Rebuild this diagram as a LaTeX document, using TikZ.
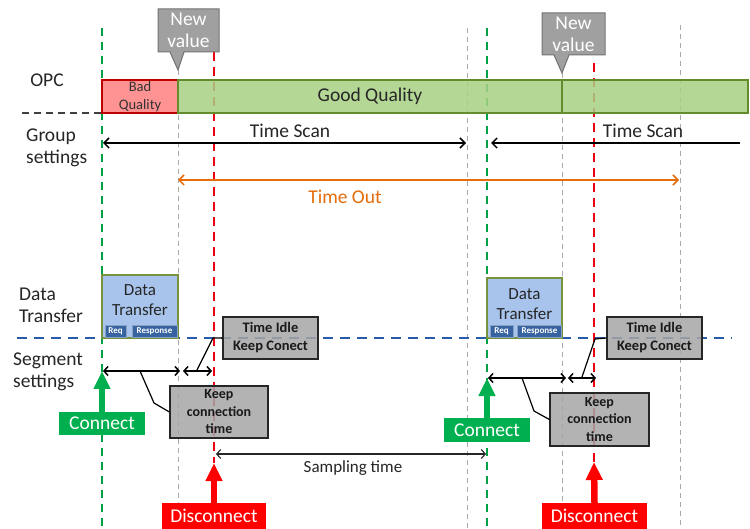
\documentclass[tikz,border=0pt]{standalone}
\usepackage{fontspec}
\setmainfont{Carlito}
\usetikzlibrary{arrows.meta}
\definecolor{cgreen}{RGB}{0,160,70}
\definecolor{cred}{RGB}{235,0,20}
\definecolor{cgray}{RGB}{170,170,170}
\definecolor{cblue}{RGB}{40,90,170}
\definecolor{badfill}{RGB}{255,128,128}
\definecolor{baddraw}{RGB}{190,0,0}
\definecolor{goodfill}{RGB}{169,209,132}
\definecolor{gooddraw}{RGB}{100,140,45}
\definecolor{corange}{RGB}{228,108,10}
\definecolor{dtfill}{RGB}{168,196,236}
\definecolor{dtdraw}{RGB}{118,146,60}
\definecolor{reqfill}{RGB}{55,100,160}
\definecolor{boxgray}{RGB}{166,166,166}
\definecolor{nvgray}{RGB}{160,160,160}
\definecolor{conngreen}{RGB}{0,176,80}
\definecolor{discred}{RGB}{255,0,0}
\tikzset{
  fs/.style 2 args={font=\fontsize{#1}{#2}\selectfont},
  fsb/.style 2 args={font=\fontsize{#1}{#2}\selectfont\bfseries},
  lab/.style={fs={19.5}{22}, text=black!85, align=left, inner sep=0pt},
  vgreen/.style={draw=cgreen, line width=2.2pt, dash pattern=on 8pt off 6pt},
  vred/.style={draw=cred, line width=2.4pt, dash pattern=on 9pt off 6pt},
  vgray/.style={draw=cgray, line width=1pt, dash pattern=on 5pt off 4pt},
  boxnode/.style={rectangle, inner sep=0pt, line width=1.2pt},
  badbox/.style={boxnode, fill=badfill, draw=baddraw, fill opacity=0.85, text opacity=1},
  goodbox/.style={boxnode, fill=goodfill, draw=gooddraw, fill opacity=0.85, text opacity=1},
  dtbox/.style={boxnode, fill=dtfill, draw=dtdraw},
  reqbox/.style={boxnode, fill=reqfill, draw=reqfill!60, line width=0.6pt, text=white, fsb={9}{10}},
  graybox/.style={boxnode, fill=boxgray, draw=black!85, fill opacity=0.85, text opacity=1, align=center, text=black!90},
  scanarrow/.style={draw=black, line width=1.5pt, {Straight Barb[length=5pt,width=10pt]}-{Straight Barb[length=5pt,width=10pt]}},
  onearrow/.style={draw=black, line width=1.5pt, -{Straight Barb[length=5pt,width=10pt]}},
  segarrow/.style={draw=black, line width=1.5pt, {Straight Barb[length=4pt,width=9pt]}-{Straight Barb[length=4pt,width=9pt]}},
  thinarrow/.style={draw=black!85, line width=1.1pt, {Straight Barb[length=4pt,width=9pt]}-{Straight Barb[length=4pt,width=9pt]}},
  outarrow/.style={draw=corange, line width=1.5pt, {Straight Barb[length=5pt,width=10pt]}-{Straight Barb[length=5pt,width=10pt]}},
  pointer/.style={draw=black, line width=1.2pt},
  connbox/.style={rectangle, inner sep=0pt, fill=conngreen, text=white, fs={19.5}{20}},
  discbox/.style={rectangle, inner sep=0pt, fill=discred, text=white, fs={19.5}{20}},
  connarrow/.style={draw=conngreen, line width=6.5pt, -{Triangle[length=18pt,width=16pt]}},
  discarrow/.style={draw=discred, line width=6.5pt, -{Triangle[length=18pt,width=16pt]}},
  nvshape/.style={fill=nvgray, draw=black!55, line width=1pt},
  nvtext/.style={text=white, fs={19.5}{22}, align=center, inner sep=0pt},
}
\begin{document}
\begin{tikzpicture}[x=1pt,y=-1pt]
\useasboundingbox (0,0) rectangle (750,529);
\fill[white] (0,0) rectangle (750,529);

% vertical guide lines
\coordinate (g1t) at (102,28);  \coordinate (g1b) at (102,529);
\coordinate (y1t) at (178,70);  \coordinate (y1b) at (178,529);
\coordinate (r1t) at (214,52);  \coordinate (r1b) at (214,463);
\coordinate (y2t) at (467,28);  \coordinate (y2b) at (467,529);
\coordinate (g2t) at (487,28);  \coordinate (g2b) at (487,529);
\coordinate (y3t) at (562,73);  \coordinate (y3b) at (562,529);
\coordinate (r2t) at (594,63);  \coordinate (r2b) at (594,462);
\coordinate (y4t) at (680,25);  \coordinate (y4b) at (680,529);
\draw[vgray] (y1t) -- (y1b);
\draw[vgray] (y2t) -- (y2b);
\draw[vgray] (y3t) -- (y3b);
\draw[vgray] (y4t) -- (y4b);
\draw[vgreen] (g1t) -- (g1b);
\draw[vgreen] (g2t) -- (g2b);
\draw[vred] (r1t) -- (r1b);
\draw[vred] (r2t) -- (r2b);

% horizontal dashed lines
\coordinate (opcl) at (22,113); \coordinate (opcr) at (102,113);
\draw[draw=black!75, line width=1.5pt, dash pattern=on 7pt off 5pt] (opcl) -- (opcr);
\coordinate (bl) at (17,338); \coordinate (br) at (732,338);
\draw[draw=cblue, line width=1.4pt, dash pattern=on 10pt off 7pt] (bl) -- (br);

% row labels
\node[lab] (opc) at (47,80) {OPC};
\node[lab, anchor=west] (grp) at (26,148) {Group\\settings};
\node[lab, anchor=west] (dtl) at (19,305) {Data\\Transfer};
\node[lab, anchor=west] (segl) at (13,372) {Segment\\settings};

% OPC bar
\node[badbox, minimum width=76pt, minimum height=33pt, text=black!80, fs={14.5}{17.5}, align=center] (bad) at (140,96.5) {Bad\\Quality};
\node[goodbox, minimum width=384pt, minimum height=33pt, text=black!85, fs={19.5}{22}] (good1) at (370,96.5) {Good Quality};
\node[goodbox, minimum width=186pt, minimum height=33pt] (good2) at (655,96.5) {};

% New value callouts
\path[nvshape] (158,9) -- (219,9) -- (219,52) -- (184,52) -- (178,70) -- (170,52) -- (158,52) -- cycle;
\node[nvtext] (nv1) at (188.5,30.5) {New\\value};
\path[nvshape] (542,13) -- (605,13) -- (605,55) -- (569,55) -- (562,73) -- (554,55) -- (542,55) -- cycle;
\node[nvtext] (nv2) at (573.5,34) {New\\value};

% Time scan
\coordinate (ts1l) at (103,143); \coordinate (ts1r) at (466,143);
\draw[scanarrow] (ts1l) -- (ts1r);
\node[fs={19.5}{22}, text=black!85, inner sep=0pt] (ts1) at (290,131) {Time Scan};
\coordinate (ts2r) at (740,143); \coordinate (ts2l) at (491,143);
\draw[onearrow] (ts2r) -- (ts2l);
\node[fs={19.5}{22}, text=black!85, inner sep=0pt] (ts2) at (643,131) {Time Scan};

% Time out
\coordinate (tol) at (178,180); \coordinate (tor) at (679,180);
\draw[outarrow] (tol) -- (tor);
\node[fs={19.5}{22}, text=corange, inner sep=0pt] (to) at (345,197) {Time Out};

% Data transfer boxes
\node[dtbox, minimum width=76pt, minimum height=63pt] (dt1) at (140,306.5) {};
\node[fs={17}{20}, align=center, text=black!85, inner sep=0pt] (dt1t) at (140,300) {Data\\Transfer};
\node[reqbox, minimum width=21pt, minimum height=12pt] (req1) at (115.5,331) {Req};
\node[reqbox, minimum width=45pt, minimum height=12pt] (res1) at (154.5,331) {Response};
\node[dtbox, minimum width=75pt, minimum height=60pt] (dt2) at (524.5,308) {};
\node[fs={17}{20}, align=center, text=black!85, inner sep=0pt] (dt2t) at (524.5,304) {Data\\Transfer};
\node[reqbox, minimum width=23pt, minimum height=12pt] (req2) at (501.5,331) {Req};
\node[reqbox, minimum width=44pt, minimum height=12pt] (res2) at (539.5,331) {Response};

% Segment arrows
\coordinate (s1a) at (103,371); \coordinate (s1b) at (180,371);
\coordinate (s1c) at (183,371); \coordinate (s1d) at (212,371);
\draw[segarrow] (s1a) -- (s1b);
\draw[segarrow] (s1c) -- (s1d);
\coordinate (s2a) at (488,378); \coordinate (s2b) at (566,378);
\coordinate (s2c) at (568,378); \coordinate (s2d) at (596,378);
\draw[segarrow] (s2a) -- (s2b);
\draw[segarrow] (s2c) -- (s2d);

% gray boxes
\node[graybox, minimum width=95pt, minimum height=42pt, fsb={14.5}{18}] (ti1) at (270.5,338) {Time Idle\\Keep Conect};
\node[graybox, minimum width=98pt, minimum height=52pt, fsb={14}{17.5}] (kc1) at (219,412) {Keep\\connection\\time};
\node[graybox, minimum width=95pt, minimum height=42pt, fsb={14.5}{18}] (ti2) at (654.5,338) {Time Idle\\Keep Conect};
\node[graybox, minimum width=99pt, minimum height=53pt, fsb={14}{17.5}] (kc2) at (599.5,419.5) {Keep\\connection\\time};

% pointer lines
\coordinate (p1a) at (197,370); \coordinate (p1b) at (213,338);
\draw[pointer] (p1a) -- (p1b) -- (ti1.west);
\coordinate (p2a) at (140,371); \coordinate (p2b) at (154,403);
\draw[pointer] (p2a) -- (p2b) -- (kc1.west);
\coordinate (p3a) at (582,377); \coordinate (p3b) at (595,339);
\draw[pointer] (p3a) -- (p3b) -- (ti2.west);
\coordinate (p4a) at (522,378); \coordinate (p4b) at (534,411);
\draw[pointer] (p4a) -- (p4b) -- (kc2.west);

% sampling time
\coordinate (spl) at (216,454); \coordinate (spr) at (486,454);
\draw[thinarrow] (spl) -- (spr);
\node[fs={17}{20}, text=black!85, inner sep=0pt] (sp) at (353,468) {Sampling time};

% Connect / Disconnect
\node[connbox, minimum width=86pt, minimum height=23pt] (c1) at (102,423.5) {Connect};
\coordinate (c1tip) at (102,371);
\draw[connarrow] (c1.north) -- (c1tip);
\node[connbox, minimum width=86pt, minimum height=24pt] (c2) at (487,430) {Connect};
\coordinate (c2tip) at (487,378);
\draw[connarrow] (c2.north) -- (c2tip);
\node[discbox, minimum width=104pt, minimum height=26pt] (d1) at (214,516) {Disconnect};
\coordinate (d1tip) at (214,463);
\draw[discarrow] (d1.north) -- (d1tip);
\node[discbox, minimum width=105pt, minimum height=26pt] (d2) at (594.5,516) {Disconnect};
\coordinate (d2tip) at (594,462);
\draw[discarrow] (d2.north) -- (d2tip);
\end{tikzpicture}
\end{document}
